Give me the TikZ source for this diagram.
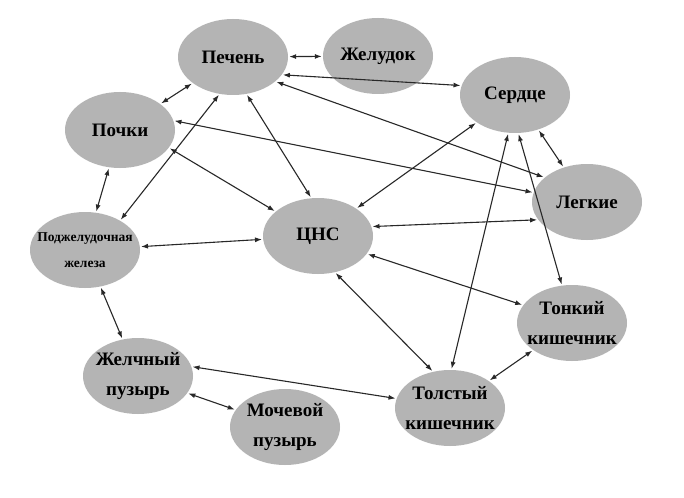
\documentclass[tikz,border=0pt]{standalone}
\usepackage{fontspec}
\setmainfont{Liberation Serif}
\usetikzlibrary{arrows.meta,shapes.geometric}
\definecolor{nodegray}{RGB}{180,180,180}
\definecolor{linegray}{RGB}{40,40,40}
\tikzset{
  organ/.style={ellipse, fill=nodegray, minimum width=110pt, minimum height=76pt, inner sep=-16pt, align=center, font=\fontsize{19}{30}\selectfont\bfseries},
  smallorgan/.style={organ, font=\fontsize{13.5}{26}\selectfont\bfseries},
  link/.style={draw=linegray, line width=1.1pt, {Latex[length=7pt,width=5pt]}-{Latex[length=7pt,width=5pt]}, shorten <=1pt, shorten >=1pt},
}
\begin{document}
\begin{tikzpicture}[x=1pt,y=-1pt]
\useasboundingbox (0,0) rectangle (684,497);
\fill[white] (0,0) rectangle (684,497);
\node[organ] (pech) at (233,57) {Печень};
\node[organ] (zhel) at (378,56) {Желудок};
\node[organ] (serd) at (515,95) {Сердце};
\node[organ] (poch) at (120,130) {Почки};
\node[organ] (leg) at (587,202) {Легкие};
\node[organ] (cns) at (318,236) {ЦНС};
\node[smallorgan] (podzh) at (85,250) {Поджелудочная\\железа};
\node[organ] (tonk) at (572,323) {Тонкий\\кишечник};
\node[organ] (zhp) at (138,376) {Желчный\\пузырь};
\node[organ] (moch) at (285,427) {Мочевой\\пузырь};
\node[organ] (tolst) at (450,408) {Толстый\\кишечник};

\draw[link] (pech) -- (zhel);
\draw[link] (pech) -- (poch);
\draw[link] (pech.-20) -- (serd.170);
\draw[link] (pech.-30) -- (leg.150);
\draw[link] (pech.-70) -- (cns.100);
\draw[link] (pech.-110) -- (podzh.40);
\draw[link] (poch.10) -- (leg.170);
\draw[link] (poch.-20) -- (cns.150);
\draw[link] (poch) -- (podzh);
\draw[link] (serd) -- (cns);
\draw[link] (serd) -- (leg);
\draw[link] (serd.-100) -- (tolst.88);
\draw[link] (serd.-85) -- (tonk.105);
\draw[link] (leg.-160) -- (cns.10);
\draw[link] (cns) -- (podzh);
\draw[link] (cns.-20) -- (tonk.160);
\draw[link] (cns.-65) -- (tolst.115);
\draw[link] (podzh) -- (zhp);
\draw[link] (zhp.10) -- (tolst.170);
\draw[link] (zhp) -- (moch);
\draw[link] (tonk) -- (tolst);
\end{tikzpicture}
\end{document}
